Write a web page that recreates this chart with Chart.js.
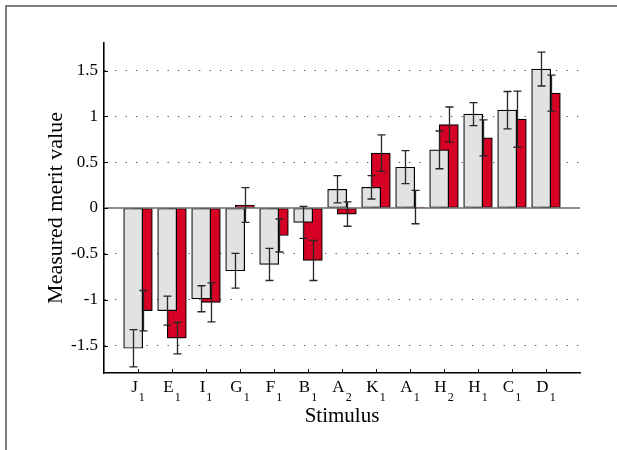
<!DOCTYPE html>
<html>
<head>
<meta charset="utf-8">
<script src="https://cdn.jsdelivr.net/npm/chart.js@4/dist/chart.umd.min.js"></script>
<style>
  body { margin: 0; background: #fff; }
  #wrap { position: relative; width: 617px; height: 450px; overflow: hidden; }
  #frame { position: absolute; left: 5px; top: 5px; right: -10px; bottom: -10px;
           border-top: 2px solid #7c7c7c; border-left: 2px solid #7c7c7c; }
  canvas { position: absolute; left: 0; top: 0; }
</style>
</head>
<body>
<div id="wrap">
  <div id="frame"></div>
  <canvas id="chart" width="617" height="450"></canvas>
</div>
<script>
// stimulus categories (letter + subscript index)
const categories = ['J1', 'E1', 'I1', 'G1', 'F1', 'B1', 'A2', 'K1', 'A1', 'H2', 'H1', 'C1', 'D1'];

// grey series: mean merit value and error half-width
const greyValues = [-1.53, -1.12, -0.99, -0.685, -0.616, -0.157, 0.204, 0.226, 0.445, 0.634, 1.024, 1.067, 1.516];
const greyErrors = [0.204, 0.158, 0.142, 0.19, 0.175, 0.174, 0.149, 0.128, 0.18, 0.206, 0.126, 0.204, 0.185];

// red series: mean merit value and error half-width
const redValues = [-1.12, -1.42, -1.03, 0.033, -0.30, -0.572, -0.066, 0.598, 0.01, 0.91, 0.765, 0.969, 1.253];
const redErrors = [0.22, 0.171, 0.213, 0.19, 0.18, 0.219, 0.133, 0.199, 0.182, 0.192, 0.197, 0.306, 0.197];

const yTicks = [-1.5, -1, -0.5, 0, 0.5, 1, 1.5];

const SERIF = '"Liberation Serif", "Times New Roman", serif';
const shift = 0.142; // half distance between the two bars of a group

const errorBarPlugin = {
  id: 'errorBars',
  afterDatasetsDraw(chart) {
    const ctx = chart.ctx;
    const xs = chart.scales.x;
    const ys = chart.scales.y;
    const area = chart.chartArea;

    // zero baseline
    ctx.save();
    ctx.strokeStyle = '#6a6a6a';
    ctx.lineWidth = 1.3;
    ctx.beginPath();
    ctx.moveTo(area.left, ys.getPixelForValue(0));
    ctx.lineTo(area.right, ys.getPixelForValue(0));
    ctx.stroke();

    ctx.strokeStyle = '#262626';
    ctx.lineWidth = 1.3;
    const series = [[greyValues, greyErrors, -shift], [redValues, redErrors, shift]];
    series.forEach(([vals, errs, off]) => {
      vals.forEach((v, i) => {
        const x = Math.round(xs.getPixelForValue(i + off)) + 0.5;
        const y1 = ys.getPixelForValue(v + errs[i]);
        const y2 = ys.getPixelForValue(v - errs[i]);
        ctx.beginPath();
        ctx.moveTo(x, y1);
        ctx.lineTo(x, y2);
        ctx.moveTo(x - 4, y1);
        ctx.lineTo(x + 4, y1);
        ctx.moveTo(x - 4, y2);
        ctx.lineTo(x + 4, y2);
        ctx.stroke();
      });
    });
    ctx.restore();
  },
  afterDraw(chart) {
    const ctx = chart.ctx;
    const xs = chart.scales.x;
    const ys = chart.scales.y;
    const area = chart.chartArea;

    ctx.save();
    // inward tick marks
    ctx.strokeStyle = '#000';
    ctx.lineWidth = 1;
    ctx.beginPath();
    yTicks.forEach(t => {
      const y = Math.round(ys.getPixelForValue(t)) + 0.5;
      ctx.moveTo(area.left, y);
      ctx.lineTo(area.left + 4, y);
    });
    categories.forEach((c, i) => {
      const x = Math.round(xs.getPixelForValue(i)) + 0.5;
      ctx.moveTo(x, area.bottom);
      ctx.lineTo(x, area.bottom - 4);
    });
    ctx.stroke();

    // category labels with subscripts
    ctx.fillStyle = '#000';
    ctx.textBaseline = 'alphabetic';
    ctx.textAlign = 'left';
    categories.forEach((c, i) => {
      const letter = c.slice(0, 1);
      const sub = c.slice(1);
      ctx.font = '17px ' + SERIF;
      const w1 = ctx.measureText(letter).width;
      ctx.font = '12px ' + SERIF;
      const w2 = ctx.measureText(sub).width;
      const gap = 1;
      const x0 = xs.getPixelForValue(i) - (w1 + gap + w2) / 2;
      ctx.font = '17px ' + SERIF;
      ctx.fillText(letter, x0, area.bottom + 19);
      ctx.font = '12px ' + SERIF;
      ctx.fillText(sub, x0 + w1 + gap, area.bottom + 28);
    });
    ctx.restore();
  }
};

const chart = new Chart(document.getElementById('chart'), {
  type: 'bar',
  data: {
    datasets: [
      {
        label: 'Grey',
        data: greyValues.map((v, i) => ({ x: i - shift, y: v })),
        backgroundColor: '#e2e2e2',
        borderColor: '#000',
        borderWidth: 1.2,
        borderSkipped: false,
        barThickness: 19,
        grouped: false
      },
      {
        label: 'Red',
        data: redValues.map((v, i) => ({ x: i + shift, y: v })),
        backgroundColor: '#d50024',
        borderColor: '#000',
        borderWidth: 1.2,
        borderSkipped: false,
        barThickness: 19,
        grouped: false
      }
    ]
  },
  options: {
    responsive: false,
    animation: false,
    layout: { padding: { left: 0, top: 43, right: 37, bottom: 0 } },
    plugins: {
      legend: { display: false },
      tooltip: { enabled: false }
    },
    scales: {
      x: {
        type: 'linear',
        offset: false,
        min: -1,
        max: 13,
        grid: { display: false, drawTicks: false },
        border: { display: true, color: '#000', width: 1.6 },
        ticks: { display: false },
        title: {
          display: true,
          text: 'Stimulus',
          color: '#000',
          font: { family: SERIF, size: 21 },
          padding: { top: 0, bottom: 21 }
        },
        afterFit: s => { s.height = 77; }
      },
      y: {
        min: -1.8,
        max: 1.8,
        afterBuildTicks: s => { s.ticks = yTicks.map(v => ({ value: v })); },
        grid: {
          drawTicks: false,
          lineWidth: 1,
          color: c => (c.tick && c.tick.value === 0 ? 'rgba(0,0,0,0)' : '#3a3a3a')
        },
        border: { display: true, color: '#000', width: 1.6, dash: [1.2, 9.3] },
        ticks: {
          color: '#000',
          padding: 6,
          font: { family: SERIF, size: 17 },
          callback: v => String(v)
        },
        title: {
          display: true,
          text: 'Measured merit value',
          color: '#000',
          font: { family: SERIF, size: 22 },
          padding: { top: 43, bottom: 0 }
        },
        afterFit: s => { s.width = 104; }
      }
    }
  },
  plugins: [errorBarPlugin]
});
</script>
</body>
</html>
